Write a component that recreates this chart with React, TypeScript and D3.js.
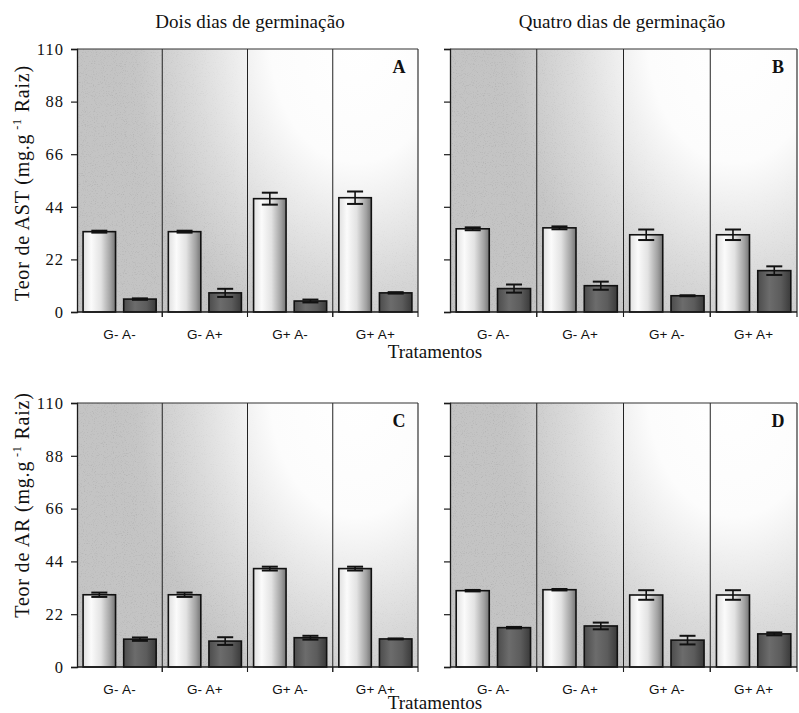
import React, { useEffect, useRef } from "react";
import * as d3 from "d3";

// Treatments (x categories) and y ticks
const tratamentos = ["G- A-", "G- A+", "G+ A-", "G+ A+"];
const yTicks = [0, 22, 44, 66, 88, 110];
const series = ["claro", "escuro"];

// Teor de AST – dois dias de germinação
const astDoisClaro = [33.6, 33.6, 47.4, 47.8];
const astDoisClaroErr = [0.4, 0.4, 2.5, 2.6];
const astDoisEscuro = [5.4, 8.0, 4.6, 8.0];
const astDoisEscuroErr = [0.3, 1.7, 0.6, 0.3];

// Teor de AST – quatro dias de germinação
const astQuatroClaro = [34.8, 35.2, 32.3, 32.3];
const astQuatroClaroErr = [0.6, 0.6, 2.2, 2.2];
const astQuatroEscuro = [9.8, 11.0, 6.8, 17.3];
const astQuatroEscuroErr = [1.7, 1.7, 0.2, 1.8];

// Teor de AR – dois dias de germinação
const arDoisClaro = [30.1, 30.1, 41.0, 41.0];
const arDoisClaroErr = [0.9, 0.9, 0.8, 0.8];
const arDoisEscuro = [11.6, 10.8, 12.2, 11.7];
const arDoisEscuroErr = [0.7, 1.6, 0.8, 0.2];

// Teor de AR – quatro dias de germinação
const arQuatroClaro = [31.8, 32.2, 30.0, 30.0];
const arQuatroClaroErr = [0.3, 0.3, 2.0, 2.0];
const arQuatroEscuro = [16.4, 17.1, 11.2, 13.8];
const arQuatroEscuroErr = [0.3, 1.4, 1.8, 0.6];

const W = 799;
const H = 713;
const SERIF = "'Liberation Serif', 'DejaVu Serif', serif";
const SANS = "'Liberation Sans', Arial, sans-serif";

type PanelProps = {
  id: string;
  x0: number;
  x1: number;
  y0: number;
  y1: number;
  claro: number[];
  claroErr: number[];
  escuro: number[];
  escuroErr: number[];
  showYLabels: boolean;
};

function Panel(p: PanelProps) {
  const axisRef = useRef<SVGGElement>(null);
  const y = d3.scaleLinear().domain([0, 110]).range([p.y1, p.y0]);
  const x = d3.scaleBand<string>().domain(tratamentos).range([p.x0, p.x1]).padding(0);
  const xs = d3
    .scaleBand<string>()
    .domain(series)
    .range([0, x.bandwidth()])
    .paddingInner(0.2)
    .paddingOuter(0.15);

  useEffect(() => {
    if (!axisRef.current) return;
    const g = d3.select(axisRef.current);
    g.selectAll("*").remove();
    g.call(
      d3
        .axisLeft(y)
        .tickValues(yTicks)
        .tickSize(6)
        .tickPadding(7)
        .tickFormat((d) => (p.showYLabels ? String(d) : ""))
    );
    g.attr("font-family", SERIF).attr("font-size", 16.5);
    g.select(".domain").attr("stroke", "#1a1a1a").attr("stroke-width", 1.3);
    g.selectAll(".tick line").attr("stroke", "#1a1a1a").attr("stroke-width", 1.2);
    g.selectAll(".tick text").attr("fill", "#111").attr("letter-spacing", 1);
  }, [p.showYLabels]);

  const w = p.x1 - p.x0;
  const gid = `bg-${p.id}`;
  const cx = p.x0 + w * 0.82;
  const cy = p.y0 - 10;
  const gTransform = `translate(${cx},${cy}) scale(1,1.43)`;
  const bounds = tratamentos.map((_, i) => p.x0 + (i * w) / tratamentos.length);

  const rows = tratamentos.map((t, i) => ({
    t,
    vals: [
      { s: "claro", v: p.claro[i], e: p.claroErr[i] },
      { s: "escuro", v: p.escuro[i], e: p.escuroErr[i] },
    ],
  }));

  return (
    <g>
      <defs>
        <radialGradient id={gid} gradientUnits="userSpaceOnUse" cx={0} cy={0} r={240} gradientTransform={gTransform}>
          <stop offset="0" stopColor="#ffffff" />
          <stop offset="0.36" stopColor="#fcfcfc" />
          <stop offset="0.68" stopColor="#dbdbdb" />
          <stop offset="0.92" stopColor="#c6c6c6" />
          <stop offset="1" stopColor="#c4c4c4" />
        </radialGradient>
        <radialGradient id={`${gid}-m`} gradientUnits="userSpaceOnUse" cx={0} cy={0} r={240} gradientTransform={gTransform}>
          <stop offset="0" stopColor="#000" />
          <stop offset="0.4" stopColor="#000" />
          <stop offset="0.75" stopColor="#888" />
          <stop offset="1" stopColor="#fff" />
        </radialGradient>
        <mask id={`${gid}-mask`}>
          <rect x={p.x0} y={p.y0} width={w} height={p.y1 - p.y0} fill={`url(#${gid}-m)`} />
        </mask>
      </defs>
      <rect x={p.x0} y={p.y0} width={w} height={p.y1 - p.y0} fill={`url(#${gid})`} />
      <g mask={`url(#${gid}-mask)`}>
        <rect x={p.x0} y={p.y0} width={w} height={p.y1 - p.y0} fill="#000" filter="url(#grain)" opacity={0.2} />
      </g>

      {/* category dividers */}
      {bounds.slice(1).map((bx, i) => (
        <line key={i} x1={bx} x2={bx} y1={p.y0} y2={p.y1 + 5} stroke="#222" strokeWidth={1} />
      ))}

      {/* bars with error bars */}
      {rows.map((r) => (
        <g key={r.t} transform={`translate(${x(r.t)},0)`}>
          {r.vals.map((d) => {
            const bx = xs(d.s)!;
            const bw = xs.bandwidth();
            const mid = bx + bw / 2;
            const capW = 16;
            return (
              <g key={d.s}>
                <rect
                  x={bx}
                  y={y(d.v)}
                  width={bw}
                  height={y(0) - y(d.v)}
                  fill={d.s === "claro" ? "url(#barClaro)" : "url(#barEscuro)"}
                  stroke="#111"
                  strokeWidth={1.6}
                />
                <line x1={mid} x2={mid} y1={y(d.v + d.e)} y2={y(d.v - d.e)} stroke="#111" strokeWidth={1.6} />
                <line x1={mid - capW / 2} x2={mid + capW / 2} y1={y(d.v + d.e)} y2={y(d.v + d.e)} stroke="#111" strokeWidth={2} />
                <line x1={mid - capW / 2} x2={mid + capW / 2} y1={y(d.v - d.e)} y2={y(d.v - d.e)} stroke="#111" strokeWidth={2} />
              </g>
            );
          })}
        </g>
      ))}

      {/* frame */}
      <line x1={p.x0} x2={p.x1} y1={p.y0} y2={p.y0} stroke="#333" strokeWidth={1.2} />
      <line x1={p.x1} x2={p.x1} y1={p.y0} y2={p.y1} stroke="#333" strokeWidth={1.2} />
      <line x1={p.x0} x2={p.x1} y1={p.y1} y2={p.y1} stroke="#1a1a1a" strokeWidth={1.3} />
      {bounds.slice(1).concat([p.x1]).map((bx, i) => (
        <line key={`t${i}`} x1={bx} x2={bx} y1={p.y1} y2={p.y1 + 5} stroke="#1a1a1a" strokeWidth={1.1} />
      ))}
      <g ref={axisRef} transform={`translate(${p.x0},0)`} />

      {/* x labels */}
      {tratamentos.map((t) => (
        <text
          key={t}
          x={x(t)! + x.bandwidth() / 2}
          y={p.y1 + 27}
          textAnchor="middle"
          fontFamily={SANS}
          fontSize={13.5}
          letterSpacing={0.2}
          fill="#111"
        >
          {t}
        </text>
      ))}

      <text x={p.x1 - 19} y={p.y0 + 24} textAnchor="middle" fontFamily={SERIF} fontWeight="bold" fontSize={18} fill="#111">
        {p.id}
      </text>
    </g>
  );
}

export default function App() {
  const left = { x0: 77, x1: 418 };
  const right = { x0: 450, x1: 797 };
  const top = { y0: 49, y1: 312 };
  const bottom = { y0: 403, y1: 667 };

  return (
    <svg width={W} height={H} style={{ position: "absolute", left: 0, top: 0, background: "#fff" }}>
      <defs>
        <linearGradient id="barClaro" x1="0" x2="1" y1="0" y2="0">
          <stop offset="0" stopColor="#e0e0e0" />
          <stop offset="0.25" stopColor="#fbfbfb" />
          <stop offset="0.55" stopColor="#e2e2e2" />
          <stop offset="0.85" stopColor="#a0a0a0" />
          <stop offset="1" stopColor="#747474" />
        </linearGradient>
        <linearGradient id="barEscuro" x1="0" x2="1" y1="0" y2="0">
          <stop offset="0" stopColor="#4c4c4c" />
          <stop offset="0.35" stopColor="#6c6c6c" />
          <stop offset="0.7" stopColor="#5c5c5c" />
          <stop offset="1" stopColor="#3a3a3a" />
        </linearGradient>
        {/* fine stipple texture for the shaded plot backgrounds */}
        <filter id="grain" x="0" y="0" width="100%" height="100%">
          <feTurbulence type="fractalNoise" baseFrequency="0.9" numOctaves={2} seed={3} result="n" />
          <feColorMatrix
            in="n"
            type="matrix"
            values="0 0 0 0 0  0 0 0 0 0  0 0 0 0 0  0 0 0 -1.2 0.55"
          />
        </filter>
      </defs>
      <rect width={W} height={H} fill="#fff" />

      <text x={250} y={28} textAnchor="middle" fontFamily={SERIF} fontSize={19} letterSpacing={0.1} fill="#111">
        Dois dias de germinação
      </text>
      <text x={622} y={28} textAnchor="middle" fontFamily={SERIF} fontSize={19} letterSpacing={0.1} fill="#111">
        Quatro dias de germinação
      </text>

      <Panel id="A" {...left} {...top} claro={astDoisClaro} claroErr={astDoisClaroErr} escuro={astDoisEscuro} escuroErr={astDoisEscuroErr} showYLabels />
      <Panel id="B" {...right} {...top} claro={astQuatroClaro} claroErr={astQuatroClaroErr} escuro={astQuatroEscuro} escuroErr={astQuatroEscuroErr} showYLabels={false} />
      <Panel id="C" {...left} {...bottom} claro={arDoisClaro} claroErr={arDoisClaroErr} escuro={arDoisEscuro} escuroErr={arDoisEscuroErr} showYLabels />
      <Panel id="D" {...right} {...bottom} claro={arQuatroClaro} claroErr={arQuatroClaroErr} escuro={arQuatroEscuro} escuroErr={arQuatroEscuroErr} showYLabels={false} />

      <text x={435} y={358} textAnchor="middle" fontFamily={SERIF} fontSize={19} fill="#111">
        Tratamentos
      </text>
      <text x={435} y={709} textAnchor="middle" fontFamily={SERIF} fontSize={19} fill="#111">
        Tratamentos
      </text>

      <text transform="translate(29,183) rotate(-90)" textAnchor="middle" fontFamily={SERIF} fontSize={20} letterSpacing={0.8} fill="#111">
        Teor de AST (mg.g<tspan dy={-8} fontSize={12}> -1</tspan>
        <tspan dy={8}> Raiz)</tspan>
      </text>
      <text transform="translate(29,505) rotate(-90)" textAnchor="middle" fontFamily={SERIF} fontSize={20} letterSpacing={0.8} fill="#111">
        Teor de AR (mg.g<tspan dy={-8} fontSize={12}> -1</tspan>
        <tspan dy={8}> Raiz)</tspan>
      </text>
    </svg>
  );
}
